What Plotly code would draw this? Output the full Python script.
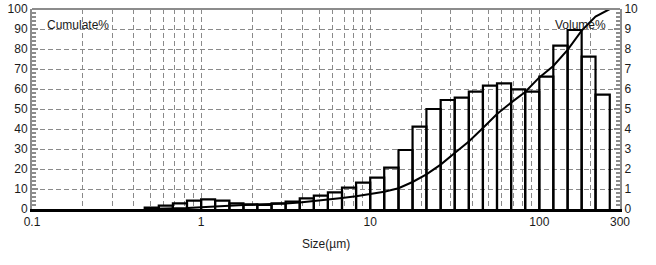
import math
import plotly.graph_objects as go

# Particle size bin edges (µm)
bin_edges_um = [0.464, 0.562, 0.681, 0.825, 1.0, 1.21, 1.47, 1.78, 2.15, 2.61,
                3.16, 3.83, 4.64, 5.62, 6.81, 8.25, 10.0, 12.1, 14.7, 17.8,
                21.5, 26.1, 31.6, 38.3, 46.4, 56.2, 68.1, 82.5, 100.0, 121.0,
                147.0, 178.0, 215.0, 261.0]

# Volume % per bin (right axis)
volume_pct = [0.07, 0.17, 0.28, 0.42, 0.48, 0.42, 0.28, 0.23, 0.21, 0.28,
              0.37, 0.53, 0.67, 0.83, 1.07, 1.32, 1.57, 2.07, 2.95, 4.12,
              5.0, 5.45, 5.57, 5.87, 6.17, 6.28, 5.98, 5.87, 6.62, 8.17,
              8.95, 7.62, 5.72]

# Cumulative % at each bin edge (left axis)
cumulate_pct = [0, 0.05, 0.2, 0.45, 0.85, 1.3, 1.7, 2.0, 2.2, 2.4,
                2.75, 3.2, 3.9, 4.7, 5.5, 6.4, 7.4, 8.6, 10.4, 13.5,
                17.3, 22.2, 28.0, 33.8, 40.5, 47.5, 53.2, 58.5, 65.8, 71.5,
                79.6, 89.2, 96.2, 100.0]

x_tick_vals = [0.1, 1, 10, 100, 300]
x_tick_text = ["0.1", "1", "10", "100", "300"]
x_minor_grid = [m * d for d in (0.1, 1, 10, 100) for m in range(2, 10) if m * d < 300]

GRID = "#8a8a8a"
SPINE = "#8c8c8c"
TXT = "#1a1a1a"
FONT = "Liberation Sans, Arial, sans-serif"

bx, by = [], []
for lo, hi, v in zip(bin_edges_um[:-1], bin_edges_um[1:], volume_pct):
    bx += [lo, lo, hi, hi, None]
    by += [0, v, v, 0, None]

fig = go.Figure()
fig.add_trace(go.Scatter(x=bx, y=by, yaxis="y2", mode="lines",
                         line=dict(color="black", width=2.2),
                         hoverinfo="skip", showlegend=False, cliponaxis=False))
fig.add_trace(go.Scatter(x=bin_edges_um, y=cumulate_pct, mode="lines",
                         line=dict(color="black", width=2),
                         showlegend=False))

fig.update_layout(
    width=656, height=265,
    margin=dict(l=32, r=36, t=9, b=56),
    paper_bgcolor="white", plot_bgcolor="white",
    font=dict(family=FONT, size=12, color=TXT),
    xaxis=dict(
        type="log", range=[-1, math.log10(300)],
        tickmode="array", tickvals=x_tick_vals, ticktext=x_tick_text,
        showgrid=True, gridcolor=GRID, griddash="5px,3px", gridwidth=1,
        minor=dict(tickmode="array", tickvals=x_minor_grid, showgrid=True,
                   gridcolor=GRID, griddash="5px,3px", gridwidth=1, ticks=""),
        showline=True, linecolor="black", linewidth=2.5,
        ticks="", zeroline=False,
        title=dict(text="Size(µm)", standoff=12, font=dict(size=12)),
        automargin=False,
    ),
    yaxis=dict(
        range=[0, 100], dtick=10, tick0=0,
        showgrid=True, gridcolor=GRID, griddash="5px,3px", gridwidth=1,
        zeroline=False, showline=True, linecolor=SPINE, linewidth=2,
        ticks="inside", ticklen=6, tickwidth=2, tickcolor=SPINE,
        minor=dict(dtick=2, ticks="inside", ticklen=4, tickwidth=2,
                   tickcolor=SPINE, showgrid=False),
        automargin=False,
    ),
    yaxis2=dict(
        range=[0, 10], dtick=1, tick0=0, overlaying="y", side="right",
        showgrid=False, zeroline=False, showline=True, linecolor=SPINE, linewidth=2,
        ticks="inside", ticklen=6, tickwidth=2, tickcolor=SPINE,
        minor=dict(dtick=0.2, ticks="inside", ticklen=4, tickwidth=2,
                   tickcolor=SPINE, showgrid=False),
        automargin=False,
    ),
    shapes=[dict(type="line", xref="paper", yref="paper", x0=0, x1=1, y0=1, y1=1,
                 line=dict(color=SPINE, width=2))],
    annotations=[
        dict(text="Cumulate%", xref="paper", yref="paper", x=0.022, y=0.92,
             xanchor="left", yanchor="middle", showarrow=False, font=dict(size=12)),
        dict(text="Volume%", xref="paper", yref="paper", x=0.98, y=0.92,
             xanchor="right", yanchor="middle", showarrow=False, font=dict(size=12)),
    ],
)

fig.write_html("out.html")
